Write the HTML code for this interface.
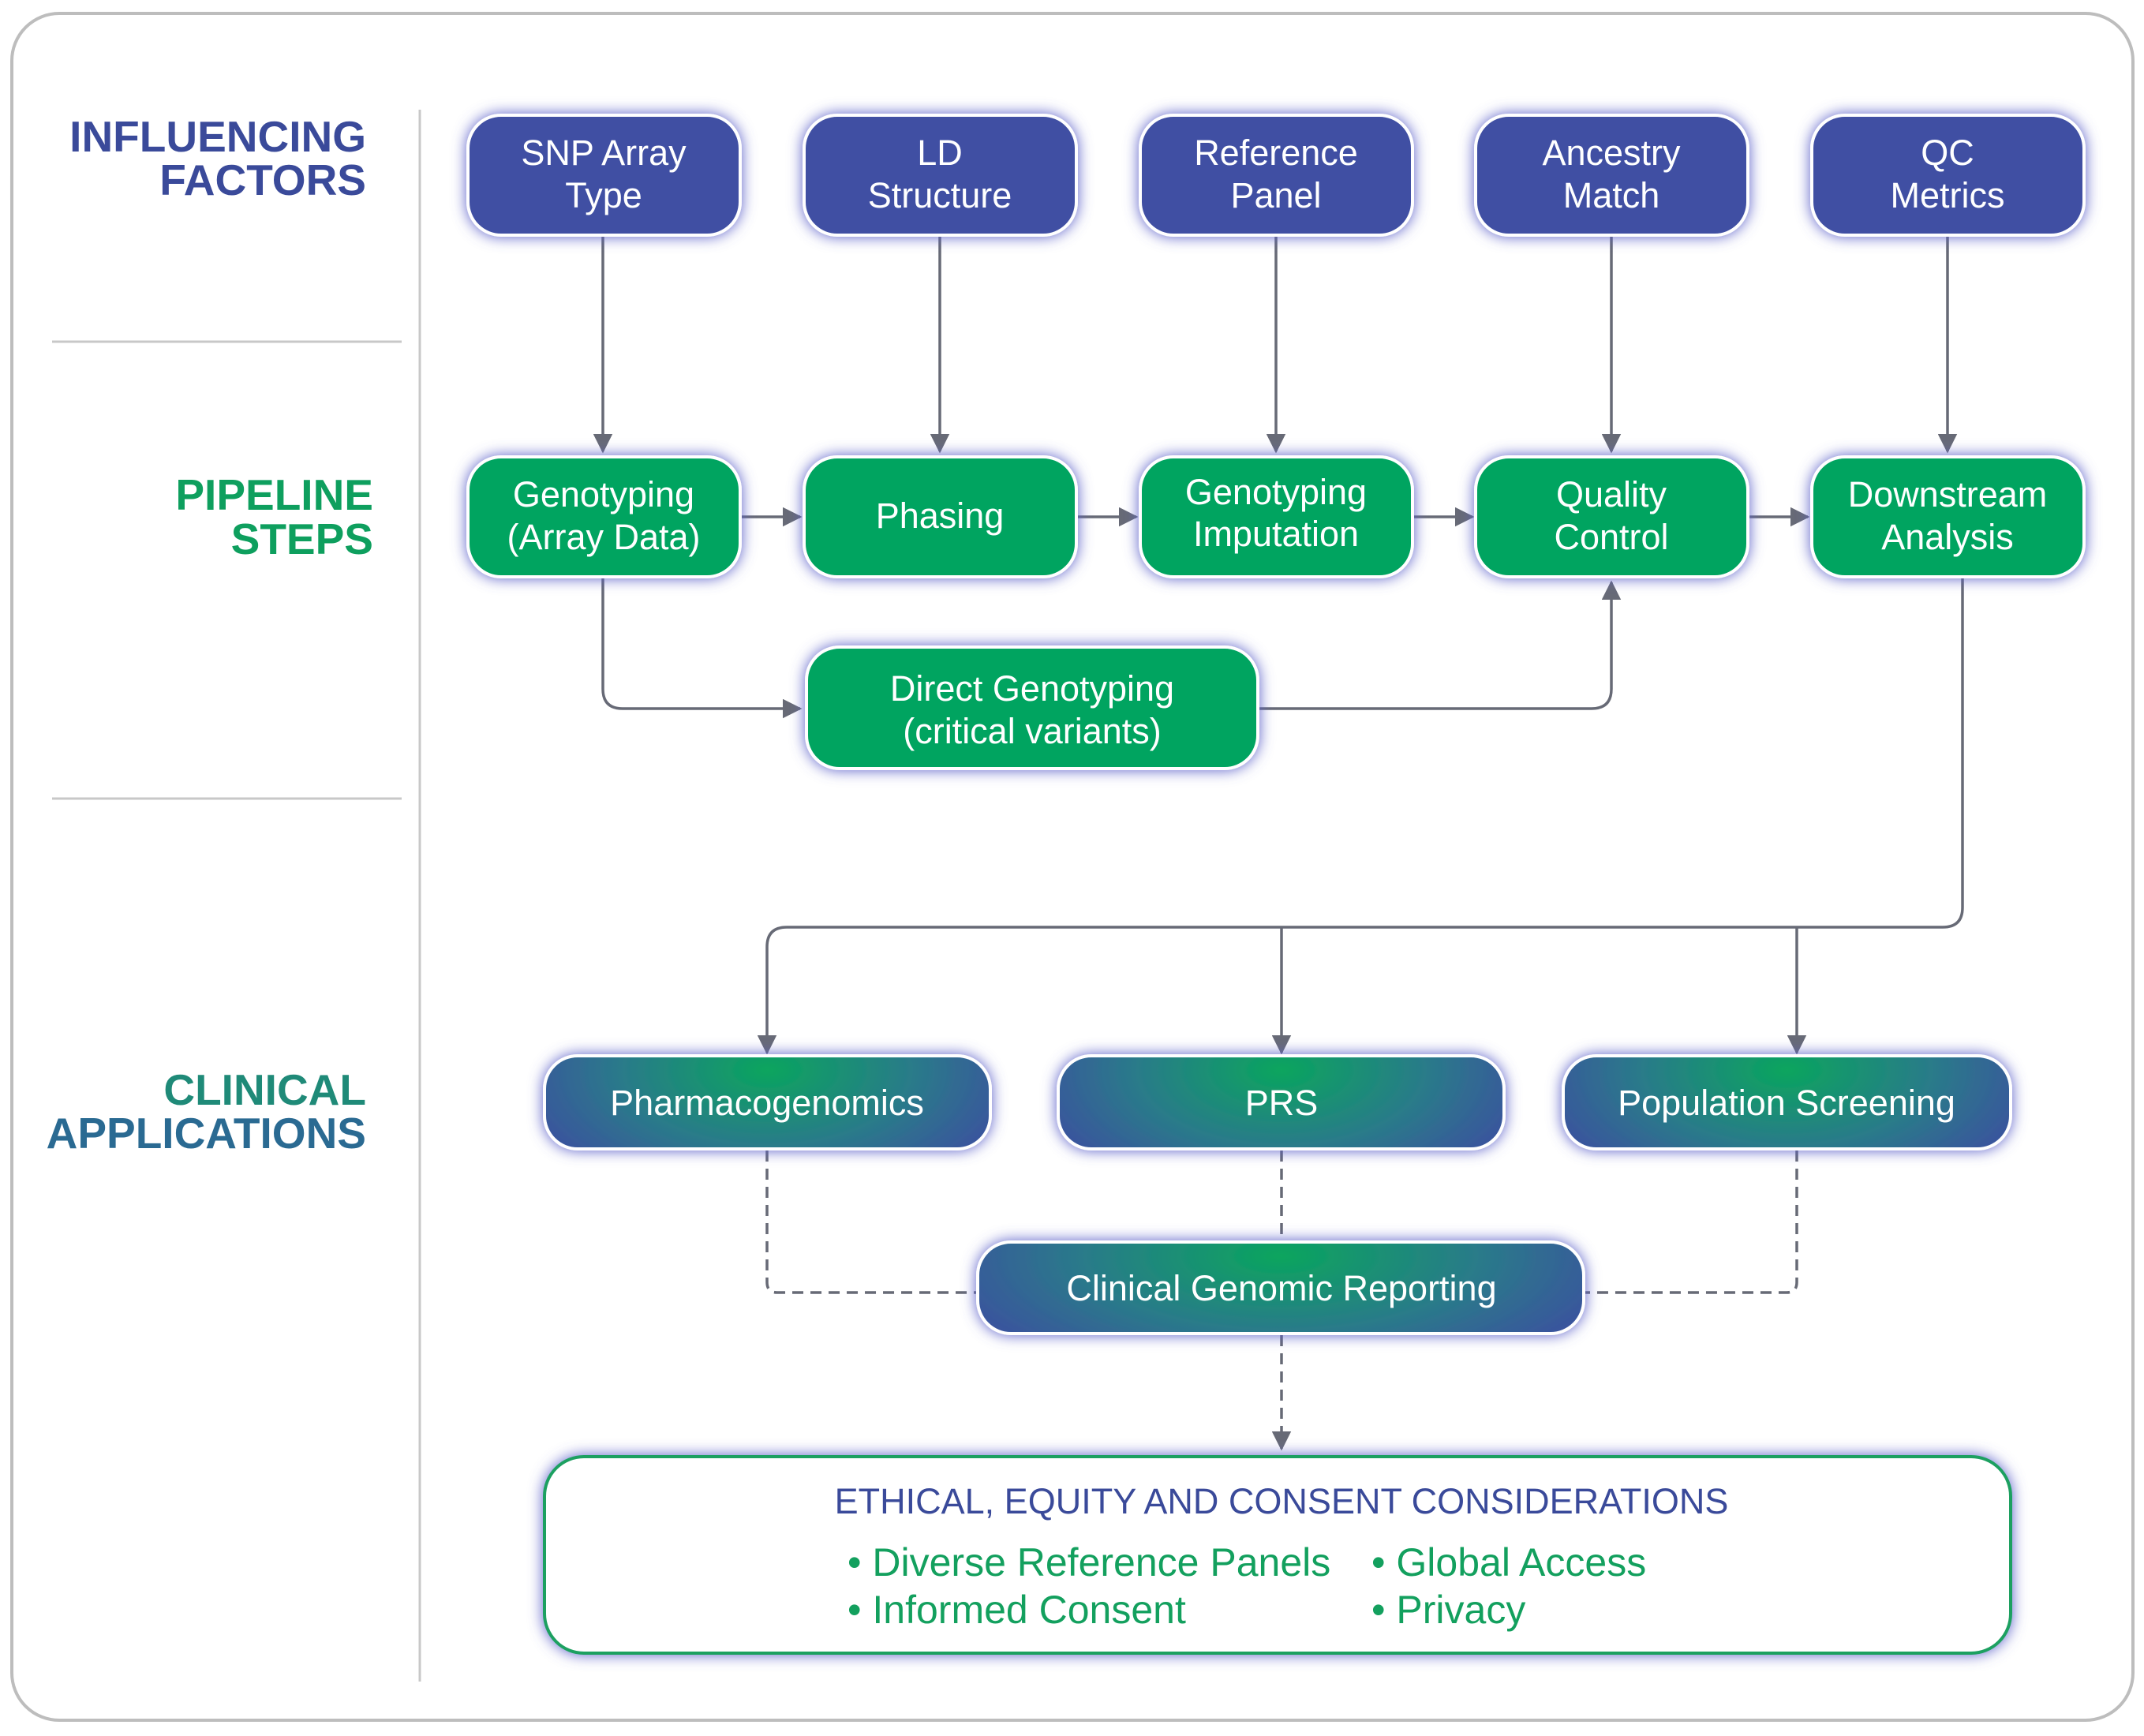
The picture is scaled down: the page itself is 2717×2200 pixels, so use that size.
<!DOCTYPE html>
<html><head><meta charset="utf-8"><style>
html,body{margin:0;padding:0;background:#fff;}
svg{display:block;}
text{font-family:"Liberation Sans",sans-serif;}
</style></head><body>
<svg width="2717" height="2200" viewBox="0 0 2717 2200" xmlns="http://www.w3.org/2000/svg">
<defs>
<filter id="glow" x="-20%" y="-30%" width="140%" height="160%">
<feGaussianBlur in="SourceAlpha" stdDeviation="9"/>
<feOffset dy="4"/>
<feComponentTransfer><feFuncA type="linear" slope="0.45"/></feComponentTransfer>
<feFlood flood-color="#5a5ec8"/>
<feComposite operator="in" in2="SourceAlpha"/>
<feGaussianBlur stdDeviation="9"/>
<feMerge><feMergeNode/><feMergeNode in="SourceGraphic"/></feMerge>
</filter>
<radialGradient id="cg" cx="0.5" cy="0.15" r="0.6" gradientTransform="translate(0.5 0.15) scale(1 2.5) translate(-0.5 -0.15)">
<stop offset="0" stop-color="#0aa55e"/>
<stop offset="0.55" stop-color="#2a7a8a"/>
<stop offset="1" stop-color="#3c4fa0"/>
</radialGradient>
<marker id="ah" viewBox="0 0 10 10" refX="9" refY="5" markerWidth="7" markerHeight="7" markerUnits="strokeWidth" orient="auto">
<path d="M0,0 L10,5 L0,10 z" fill="#676a76"/>
</marker>
</defs>
<rect x="15" y="17" width="2688" height="2163" rx="60" fill="#fff" stroke="#bdbdbd" stroke-width="4"/>
<line x1="532" y1="139" x2="532" y2="2131" stroke="#c8c8c8" stroke-width="3"/>
<line x1="66" y1="433" x2="509" y2="433" stroke="#c8c8c8" stroke-width="3"/>
<line x1="66" y1="1012" x2="509" y2="1012" stroke="#c8c8c8" stroke-width="3"/>

<g font-weight="bold" font-size="55" text-anchor="end">
<text x="464" y="192" fill="#3a4a9a">INFLUENCING</text>
<text x="464" y="247" fill="#3a4a9a">FACTORS</text>
<text x="473" y="646" fill="#0e9f5e">PIPELINE</text>
<text x="473" y="702" fill="#0e9f5e">STEPS</text>
<text x="464" y="1400" fill="#1f8a78">CLINICAL</text>
<text x="464" y="1455" fill="#2a6a92">APPLICATIONS</text>
</g>

<g stroke="#676a76" stroke-width="3.5" fill="none" marker-end="url(#ah)">
<line x1="764" y1="300" x2="764" y2="572"/>
<line x1="1191" y1="300" x2="1191" y2="572"/>
<line x1="1617" y1="300" x2="1617" y2="572"/>
<line x1="2042" y1="300" x2="2042" y2="572"/>
<line x1="2468" y1="300" x2="2468" y2="572"/>
<line x1="939" y1="655" x2="1014" y2="655"/>
<line x1="1365" y1="655" x2="1440" y2="655"/>
<line x1="1791" y1="655" x2="1866" y2="655"/>
<line x1="2216" y1="655" x2="2291" y2="655"/>
<path d="M764,733 V873 Q764,898 789,898 H1014"/>
<path d="M1594,898 H2017 Q2042,898 2042,873 V738"/>
<path d="M2487,733 V1150 Q2487,1175 2462,1175 H997 Q972,1175 972,1200 V1334"/>
<line x1="1624" y1="1175" x2="1624" y2="1334"/>
<line x1="2277" y1="1175" x2="2277" y2="1334"/>
</g>
<g stroke="#676a76" stroke-width="3.5" fill="none" stroke-dasharray="14 9">
<path d="M972,1458 V1625 Q972,1638 985,1638 H1239"/>
<line x1="1624" y1="1458" x2="1624" y2="1574"/>
<path d="M2277,1458 V1625 Q2277,1638 2264,1638 H2007"/>
<line x1="1624" y1="1692" x2="1624" y2="1836" marker-end="url(#ah)"/>
</g>

<g filter="url(#glow)" fill="#3f4fa3" stroke="#fff" stroke-width="4">
<rect x="593" y="146" width="345" height="152" rx="42"/>
<rect x="1019" y="146" width="345" height="152" rx="42"/>
<rect x="1445" y="146" width="345" height="152" rx="42"/>
<rect x="1870" y="146" width="345" height="152" rx="42"/>
<rect x="2296" y="146" width="345" height="152" rx="42"/>
</g>
<g filter="url(#glow)" fill="#02a460" stroke="#fff" stroke-width="4">
<rect x="593" y="579" width="345" height="152" rx="42"/>
<rect x="1019" y="579" width="345" height="152" rx="42"/>
<rect x="1445" y="579" width="345" height="152" rx="42"/>
<rect x="1870" y="579" width="345" height="152" rx="42"/>
<rect x="2296" y="579" width="345" height="152" rx="42"/>
<rect x="1022" y="820" width="572" height="154" rx="42"/>
</g>
<g filter="url(#glow)" fill="url(#cg)" stroke="#fff" stroke-width="4">
<rect x="690" y="1338" width="565" height="118" rx="42"/>
<rect x="1341" y="1338" width="565" height="118" rx="42"/>
<rect x="1981" y="1338" width="567" height="118" rx="42"/>
<rect x="1239" y="1574" width="768" height="116" rx="42"/>
</g>
<rect x="690" y="1846" width="1858" height="249" rx="50" fill="#fff" stroke="#1aa060" stroke-width="4" filter="url(#glow)"/>

<g fill="#fff" font-size="45" text-anchor="middle">
<text x="765" y="209">SNP Array</text><text x="765" y="263">Type</text>
<text x="1191" y="209">LD</text><text x="1191" y="263">Structure</text>
<text x="1617" y="209">Reference</text><text x="1617" y="263">Panel</text>
<text x="2042" y="209">Ancestry</text><text x="2042" y="263">Match</text>
<text x="2468" y="209">QC</text><text x="2468" y="263">Metrics</text>
<text x="765" y="642">Genotyping</text><text x="765" y="696">(Array Data)</text>
<text x="1191" y="669">Phasing</text>
<text x="1617" y="639">Genotyping</text><text x="1617" y="692">Imputation</text>
<text x="2042" y="642">Quality</text><text x="2042" y="696">Control</text>
<text x="2468" y="642">Downstream</text><text x="2468" y="696">Analysis</text>
<text x="1308" y="888">Direct Genotyping</text><text x="1308" y="942">(critical variants)</text>
<text x="972" y="1413">Pharmacogenomics</text>
<text x="1624" y="1413">PRS</text>
<text x="2264" y="1413">Population Screening</text>
<text x="1624" y="1648">Clinical Genomic Reporting</text>
</g>
<text x="1624" y="1918" text-anchor="middle" font-size="45" fill="#3a4a9a">ETHICAL, EQUITY AND CONSENT CONSIDERATIONS</text>
<g font-size="50" fill="#13a05e">
<text x="1074" y="1997">• Diverse Reference Panels</text>
<text x="1738" y="1997">• Global Access</text>
<text x="1074" y="2057">• Informed Consent</text>
<text x="1738" y="2057">• Privacy</text>
</g>
</svg>
</body></html>
